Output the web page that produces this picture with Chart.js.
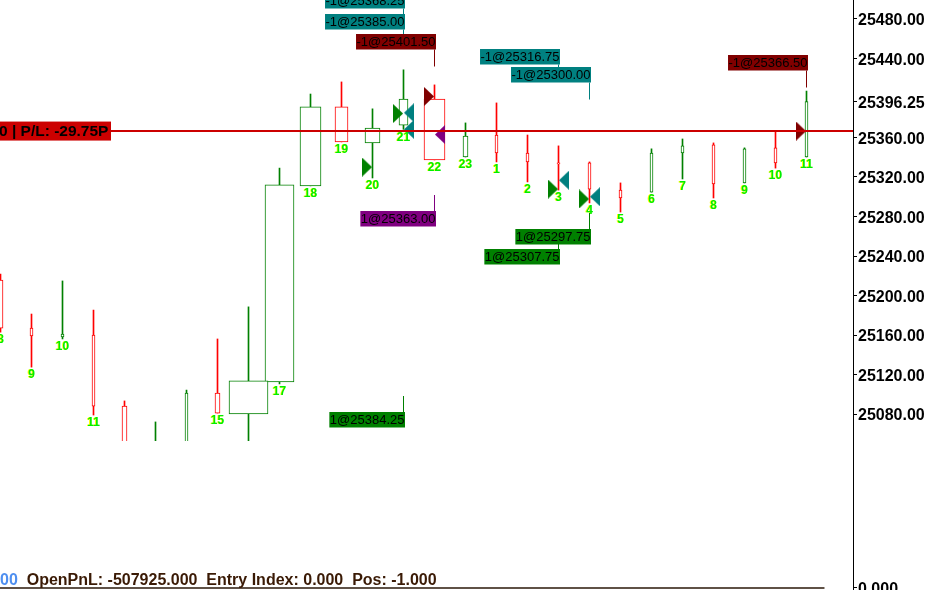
<!DOCTYPE html>
<html>
<head>
<meta charset="utf-8">
<title>Chart</title>
<script src="https://cdn.jsdelivr.net/npm/chart.js@4.4.1/dist/chart.umd.min.js"></script>
<style>
  html, body { margin: 0; padding: 0; background: #fff; }
</style>
</head>
<body>
<canvas id="chart" width="927" height="590"></canvas>
<script>
// Bar numbers printed under each candle
const barNumbers = [8, 9, 10, 11, 12, 13, 14, 15, 16, 17, 18, 19, 20, 21, 22, 23, 1, 2, 3, 4, 5, 6, 7, 8, 9, 10, 11];
const opens  = [25215.75, 25167.00, 25158.00, 25160.00, 25088.00, 25020.00, 25040.00, 25101.25, 25080.00, 25112.50,
                25311.00, 25391.00, 25354.50, 25372.50, 25399.00, 25340.25, 25362.50, 25344.25, 25334.25, 25334.25,
                25306.75, 25304.75, 25344.25, 25352.50, 25314.00, 25349.50, 25340.25];
const highs  = [25221.75, 25181.25, 25214.75, 25185.25, 25093.25, 25072.00, 25104.25, 25156.00, 25188.50, 25329.00,
                25404.00, 25416.25, 25389.00, 25428.50, 25413.25, 25374.75, 25395.00, 25362.50, 25351.50, 25335.25,
                25314.00, 25348.50, 25358.50, 25354.50, 25349.50, 25365.50, 25407.00];
const lows   = [25163.00, 25127.50, 25156.00, 25079.00, 25020.00, 25010.00, 25030.00, 25081.00, 25040.00, 25110.50,
                25311.00, 25355.50, 25319.00, 25368.25, 25337.25, 25340.25, 25335.25, 25315.00, 25306.75, 25293.75,
                25284.50, 25304.75, 25318.00, 25298.75, 25314.00, 25329.00, 25340.25];
const closes = [25167.00, 25159.00, 25161.00, 25088.00, 25030.00, 25045.00, 25101.25, 25081.00, 25113.50, 25312.00,
                25391.00, 25355.50, 25369.50, 25399.00, 25337.25, 25361.50, 25344.25, 25335.25, 25333.25, 25307.75,
                25298.75, 25344.25, 25351.50, 25313.00, 25348.50, 25334.25, 25396.25];

// Trades (in drawing order)
const tradeBar   = [13, 13, 13, 14, 14, 18, 18, 19, 19, 26, 12];
const tradeQty   = [-1, -1, 1, -1, 1, 1, -1, 1, -1, -1, 1];
const tradePrice = [25368.25, 25385.00, 25384.25, 25401.50, 25363.00, 25307.75, 25316.75, 25297.75, 25300.00, 25366.50, 25330.00];
const tradeKind  = ['sell', 'sell', 'buy', 'exitSell', 'exitBuy', 'buy', 'sell', 'buy', 'sell', 'exitSell', 'buy'];

const yTicks = [25480, 25440, 25396.25, 25360, 25320, 25280, 25240, 25200, 25160, 25120, 25080];
const positionPrice = 25366.50;
const plText = '0 | P/L: -29.75P';
const openPnL = -507925, entryIndex = 0, position = -1;

// layout / style (not data)
const bodyWidths = [5, 3, 3, 3, 5, 3, 3, 5, 39, 29, 21, 13, 15, 9, 21, 5, 3, 3, 3, 3, 3, 3, 3, 3, 3, 3, 3];
const tagTop = [-7, 14, 412, 34, 211, 249, 49, 229, 67, 55, null];
const xMin = -0.5 / 31, xMax = 27.5;
const zeroLineTo = 26.58;
const UP = '#008000', DOWN = '#ff0000';
const kindColor = { buy: '#008000', sell: '#008080', exitSell: '#800000', exitBuy: '#800080' };
const kindRight = { buy: true, sell: false, exitSell: true, exitBuy: false };
const markerShift = 0.177;
const FONT = '"Liberation Sans", Arial, sans-serif';

function candleColor(i) {
    return closes[i] >= opens[i] ? UP : DOWN;
}

function triangleImage(color, pointsRight) {
    const c = document.createElement('canvas');
    c.width = 10;
    c.height = 19;
    const g = c.getContext('2d');
    g.fillStyle = color;
    g.beginPath();
    if (pointsRight) {
        g.moveTo(0, 0); g.lineTo(10, 9.5); g.lineTo(0, 19);
    } else {
        g.moveTo(10, 0); g.lineTo(0, 9.5); g.lineTo(10, 19);
    }
    g.closePath();
    g.fill();
    return c;
}
const markerImages = {};
Object.keys(kindColor).forEach(k => { markerImages[k] = triangleImage(kindColor[k], kindRight[k]); });

// wicks
const datasets = [{
    type: 'bar',
    data: barNumbers.map((n, i) => ({ x: i, y: [lows[i], highs[i]] })),
    backgroundColor: ctx => candleColor(ctx.dataIndex),
    borderWidth: 0,
    barThickness: 1,
    grouped: false,
    clip: 0,
    order: 4,
    yAxisID: 'y'
}];

// hollow bodies, one dataset per body width
[...new Set(bodyWidths)].forEach(w => {
    const idx = bodyWidths.map((bw, i) => bw === w ? i : -1).filter(i => i >= 0);
    datasets.push({
        type: 'bar',
        data: idx.map(i => ({ x: i, y: [opens[i], closes[i]] })),
        backgroundColor: '#ffffff',
        borderColor: ctx => candleColor(ctx.raw.x),
        borderWidth: 1,
        borderSkipped: false,
        barThickness: w,
        grouped: false,
        clip: 0,
        order: 3,
        yAxisID: 'y'
    });
});

// trade markers
datasets.push({
    type: 'line',
    showLine: false,
    data: tradeBar.map((b, i) => ({ x: b + (kindRight[tradeKind[i]] ? -markerShift : markerShift), y: tradePrice[i] })),
    pointStyle: ctx => markerImages[tradeKind[ctx.dataIndex]],
    pointRadius: 5,
    clip: 0,
    order: 2,
    yAxisID: 'y'
});

// open position line
datasets.push({
    type: 'line',
    data: [{ x: xMin, y: positionPrice }, { x: xMax, y: positionPrice }],
    borderColor: '#cc0000',
    borderWidth: 2,
    pointRadius: 0,
    order: 1,
    yAxisID: 'y'
});

// lower pane zero line
datasets.push({
    type: 'line',
    data: [{ x: xMin, y: 0 }, { x: zeroLineTo, y: 0 }],
    borderColor: '#2a1708',
    borderWidth: 1.5,
    pointRadius: 0,
    order: 1,
    yAxisID: 'y2'
});

const overlayPlugin = {
    id: 'overlay',
    afterDatasetsDraw(chart) {
        const ctx = chart.ctx;
        const xs = chart.scales.x, ys = chart.scales.y;
        ctx.save();

        // bar numbers
        ctx.font = 'bold 12px ' + FONT;
        ctx.textAlign = 'center';
        ctx.textBaseline = 'top';
        barNumbers.forEach((n, i) => {
            const px = xs.getPixelForValue(i);
            const py = ys.getPixelForValue(lows[i]) + 2;
            if (py + 10 > ys.bottom) return;
            ctx.fillStyle = '#ffff00';
            ctx.fillText(String(n), px - 0.8, py);
            ctx.fillStyle = '#00ee00';
            ctx.fillText(String(n), px, py);
        });

        // trade tags
        ctx.font = '13px ' + FONT;
        ctx.textAlign = 'left';
        ctx.textBaseline = 'middle';
        tradeBar.forEach((b, i) => {
            if (tagTop[i] === null) return;
            const color = kindColor[tradeKind[i]];
            const text = tradeQty[i] + '@' + tradePrice[i].toFixed(2);
            const w = ctx.measureText(text).width + 1;
            const cx = xs.getPixelForValue(b);
            const right = cx + 1.5;
            const top = tagTop[i], h = 15.5;
            ctx.strokeStyle = color;
            ctx.lineWidth = 1;
            ctx.beginPath();
            if (tradeQty[i] < 0) {
                ctx.moveTo(cx, top + h);
                ctx.lineTo(cx, top + h + 17);
            } else {
                ctx.moveTo(cx, top);
                ctx.lineTo(cx, top - 16);
            }
            ctx.stroke();
            ctx.fillStyle = color;
            ctx.fillRect(right - w, top, w, h);
            ctx.fillStyle = '#000';
            ctx.fillText(text, right - w + 0.5, top + h / 2 + 0.5);
        });

        // P/L box on the position line
        const ly = ys.getPixelForValue(positionPrice);
        ctx.font = 'bold 15.5px ' + FONT;
        ctx.fillStyle = '#cc0000';
        ctx.fillRect(0, ly - 9.5, 111, 19);
        ctx.fillStyle = '#000';
        ctx.textAlign = 'left';
        ctx.fillText(plText, -1, ly + 0.5);

        // lower pane text
        ctx.font = 'bold 16px ' + FONT;
        ctx.textBaseline = 'alphabetic';
        ctx.fillStyle = '#4f8ff0';
        ctx.fillText('00', 0, 585);
        const w0 = ctx.measureText('00').width;
        ctx.fillStyle = '#3a1a05';
        ctx.fillText('  OpenPnL: ' + openPnL.toFixed(3) + '  Entry Index: ' + entryIndex.toFixed(3) +
            '  Pos: ' + position.toFixed(3), w0, 585);
        ctx.restore();
    }
};

const axisFont = { family: FONT, size: 16, weight: 'bold' };

new Chart(document.getElementById('chart'), {
    data: { datasets: datasets },
    options: {
        responsive: false,
        animation: false,
        devicePixelRatio: 1,
        layout: { padding: 0, autoPadding: false },
        plugins: { legend: { display: false }, tooltip: { enabled: false } },
        scales: {
            x: { type: 'linear', display: false, offset: false, grid: { offset: false }, min: xMin, max: xMax },
            y: {
                type: 'linear',
                position: 'right',
                stack: 'panes',
                stackWeight: 441,
                min: 25052.7,
                max: 25499.2,
                border: { display: true, color: '#000', width: 1 },
                grid: { drawOnChartArea: false, drawTicks: true, tickLength: 4, color: '#000' },
                ticks: { color: '#000', font: axisFont, padding: 1, crossAlign: 'near', autoSkip: false, labelOffset: 2,
                         callback: v => Number(v).toFixed(2) },
                afterBuildTicks: s => { s.ticks = yTicks.map(v => ({ value: v })); },
                afterFit: s => { s.width = 74; s.paddingTop = 0; s.paddingBottom = 0; }
            },
            y2: {
                type: 'linear',
                position: 'right',
                stack: 'panes',
                stackWeight: 149,
                min: -0.02,
                max: 1.45,
                border: { display: true, color: '#000', width: 1 },
                grid: { drawOnChartArea: false, drawTicks: true, tickLength: 4, color: '#000' },
                ticks: { color: '#000', font: axisFont, padding: 1, crossAlign: 'near', autoSkip: false, labelOffset: 2,
                         callback: v => Number(v).toFixed(3) },
                afterBuildTicks: s => { s.ticks = [{ value: 0 }]; },
                afterFit: s => { s.width = 74; s.paddingTop = 0; s.paddingBottom = 0; }
            }
        }
    },
    plugins: [overlayPlugin]
});
</script>
</body>
</html>
